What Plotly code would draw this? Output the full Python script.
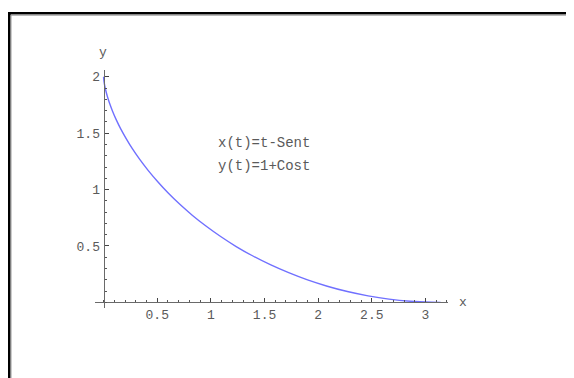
import plotly.graph_objects as go

# Curve points (cycloid arch, x(t)=t-Sen t, y(t)=1+Cos t)
curve_x = [0.0, 0.0002, 0.0013, 0.0045, 0.0106, 0.0206, 0.0354, 0.0558, 0.0826, 0.1164,
           0.1585, 0.2092, 0.268, 0.337, 0.415, 0.503, 0.600, 0.708, 0.826, 0.954,
           1.091, 1.236, 1.392, 1.554, 1.725, 1.901, 2.085, 2.272, 2.465, 2.660,
           2.859, 3.059, 3.1416]
curve_y = [2.0, 1.995, 1.980, 1.955, 1.921, 1.878, 1.825, 1.765, 1.697, 1.622,
           1.540, 1.454, 1.362, 1.267, 1.170, 1.071, 0.971, 0.871, 0.773, 0.677,
           0.584, 0.495, 0.411, 0.334, 0.263, 0.199, 0.143, 0.096, 0.058, 0.029,
           0.010, 0.001, 0.0]

x_ticks = [0.5, 1, 1.5, 2, 2.5, 3]
x_tick_text = ["0.5", "1", "1.5", "2", "2.5", "3"]
y_ticks = [0.5, 1, 1.5, 2]
y_tick_text = ["0.5", "1", "1.5", "2"]
formula_lines = ["x(t)=t-Sent", "y(t)=1+Cost"]

x_range = [-0.08, 3.21]
y_range = [-0.05, 2.06]

mono = "Liberation Mono, Courier New, monospace"
txt_col = "#5a5a5a"

# page body adds an 8px offset; plot area in window pixels: x 95..448, y 70..308
OFF = 8
L, T, R, B = 95, 70, 448, 308
W, H = 574 - OFF, 378 - OFF

fig = go.Figure()
fig.add_trace(go.Scatter(
    x=curve_x, y=curve_y, mode="lines", line_shape="spline",
    line=dict(color="#7070ff", width=1.4), hoverinfo="skip", showlegend=False,
))

axis_common = dict(
    showgrid=False, zeroline=False, showline=True, linecolor="#6a6a6a", linewidth=1,
    ticks="inside", ticklen=4, tickcolor="#444444", tickwidth=1,
    tickfont=dict(family=mono, size=13, color=txt_col),
    minor=dict(tickmode="linear", tick0=0, dtick=0.1, ticks="inside", ticklen=2,
               tickcolor="#555555", tickwidth=1),
    tickmode="array", fixedrange=True,
)

fig.update_layout(
    width=W, height=H,
    margin=dict(l=L - OFF, r=W + OFF - R, t=T - OFF, b=H + OFF - B, autoexpand=False),
    paper_bgcolor="white", plot_bgcolor="white",
    xaxis=dict(range=x_range, tickvals=x_ticks, ticktext=x_tick_text,
               anchor="free", position=(0 - y_range[0]) / (y_range[1] - y_range[0]),
               **axis_common),
    yaxis=dict(range=y_range, tickvals=y_ticks, ticktext=y_tick_text,
               anchor="free", position=(0 - x_range[0]) / (x_range[1] - x_range[0]),
               ticklabelstandoff=1, **axis_common),
    showlegend=False,
)

pw, ph = R - L, B - T
def px2paper_x(p): return (p - L) / pw
def px2paper_y(p): return 1 + (T - p) / ph

# Axis labels
fig.add_annotation(x=px2paper_x(103), y=px2paper_y(52), xref="paper", yref="paper",
                   text="y", showarrow=False, xanchor="center", yanchor="middle",
                   font=dict(family=mono, size=13, color=txt_col))
fig.add_annotation(x=px2paper_x(463), y=px2paper_y(302), xref="paper", yref="paper",
                   text="x", showarrow=False, xanchor="center", yanchor="middle",
                   font=dict(family=mono, size=13, color=txt_col))

# Formula text
for i, line in enumerate(formula_lines):
    fig.add_annotation(x=1.05, y=1.41 - 0.205 * i, xref="x", yref="y", text=line,
                       showarrow=False, xanchor="left",
                       font=dict(family=mono, size=14, color=txt_col))

# Picture frame (top and left edges visible)
fig.add_shape(type="rect", xref="paper", yref="paper",
              x0=px2paper_x(9.3), x1=px2paper_x(640), y0=px2paper_y(13.3), y1=px2paper_y(460),
              line=dict(color="black", width=2.6), layer="above")
fig.add_shape(type="rect", xref="paper", yref="paper",
              x0=px2paper_x(11), x1=px2paper_x(640), y0=px2paper_y(15.2), y1=px2paper_y(460),
              line=dict(color="#9a9a9a", width=1), layer="above")

fig.write_html("out.html")
